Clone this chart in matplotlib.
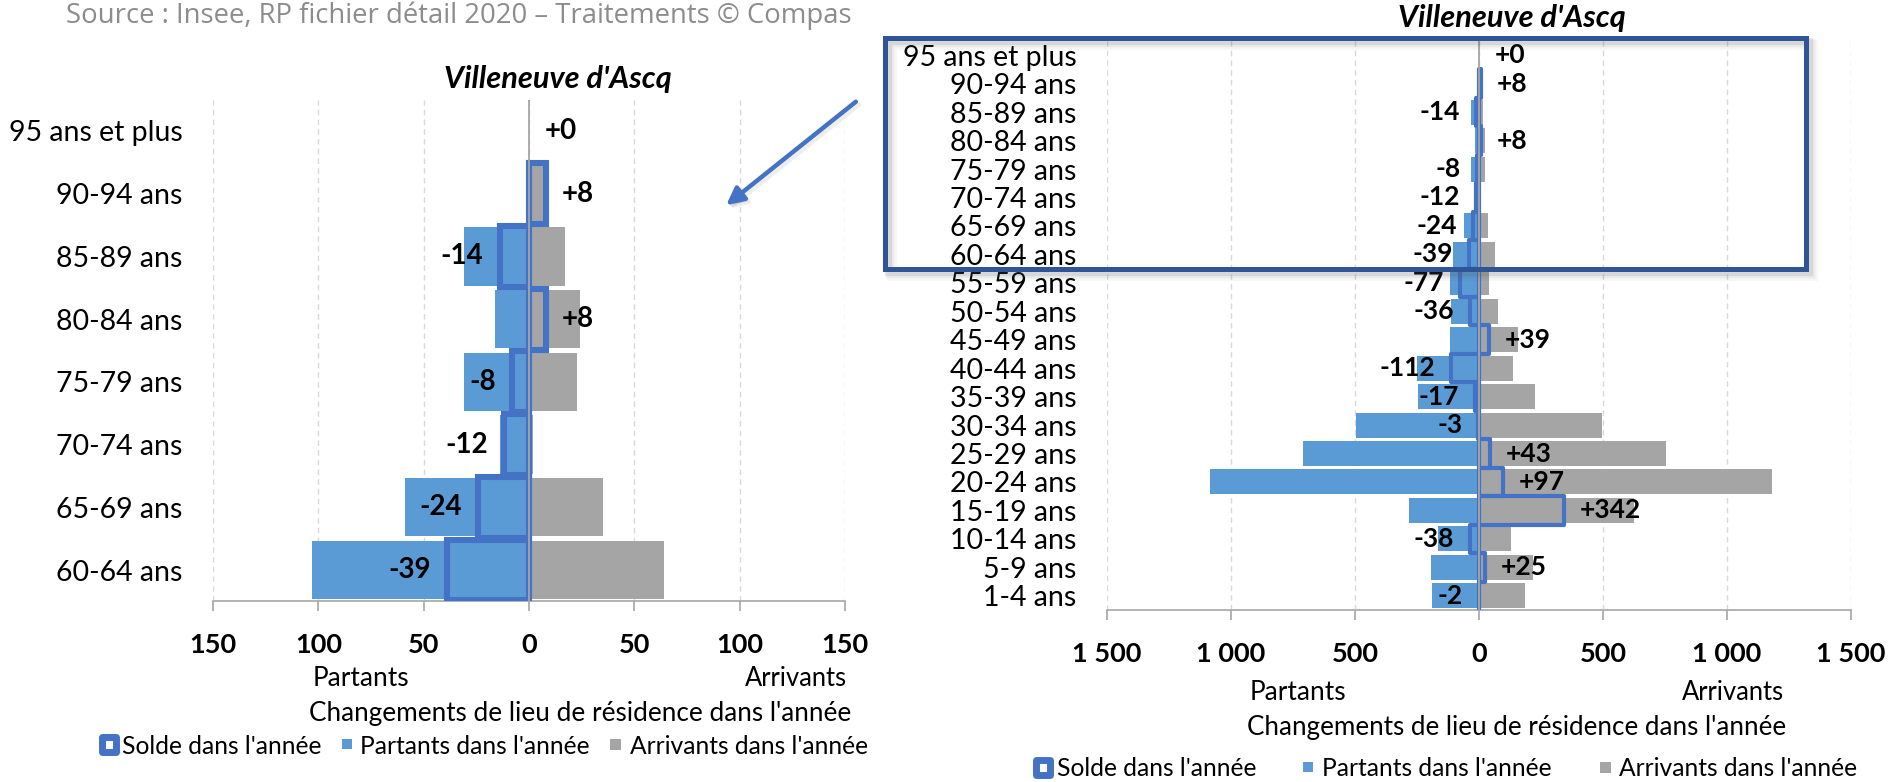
import numpy as np
import matplotlib
matplotlib.use("Agg")
import matplotlib.pyplot as plt
from matplotlib.patches import Rectangle, FancyArrowPatch

plt.rcParams['font.family'] = ['Lato', 'DejaVu Sans']

# ---------------- data ----------------
categories = ["95 ans et plus", "90-94 ans", "85-89 ans", "80-84 ans", "75-79 ans",
              "70-74 ans", "65-69 ans", "60-64 ans", "55-59 ans", "50-54 ans",
              "45-49 ans", "40-44 ans", "35-39 ans", "30-34 ans", "25-29 ans",
              "20-24 ans", "15-19 ans", "10-14 ans", "5-9 ans", "1-4 ans"]
partants = [0, 0, 31, 16, 31, 14, 59, 103, 117, 114, 117, 250, 244, 497, 710,
            1085, 283, 166, 193, 189]
arrivants = [0, 8, 17, 24, 23, 2, 35, 64, 40, 78, 156, 138, 227, 494, 753,
             1182, 625, 128, 218, 187]
solde = [0, 8, -14, 8, -8, -12, -24, -39, -77, -36, 39, -112, -17, -3, 43,
         97, 342, -38, 25, -2]
n_zoom = 8  # left chart shows the 60 ans et plus rows

source_txt = "Source : Insee, RP fichier détail 2020 – Traitements © Compas"
title_txt = "Villeneuve d'Ascq"
xlabel_txt = "Changements de lieu de résidence dans l'année"
legend_labels = ["Solde dans l'année", "Partants dans l'année", "Arrivants dans l'année"]

C_PART = "#5B9BD5"
C_ARR = "#A5A5A5"
C_SOLDE = "#4472C4"
C_FRAME = "#2F5597"
C_AXIS = "#A6A6A6"

W, H = 1895, 782
fig = plt.figure(figsize=(W / 100, H / 100), dpi=100)
renderer = fig.canvas.get_renderer()


def fx(x):
    return x / W


def fy(y):
    return 1 - y / H


def ax_rect(x0, y0, x1, y1):
    return [x0 / W, 1 - y1 / H, (x1 - x0) / W, (y1 - y0) / H]


def fit(t, target_px):
    bb = t.get_window_extent(renderer=renderer)
    t.set_fontsize(t.get_fontsize() * target_px / bb.width)
    return t


def draw(ax, n, lim, step, bar_h, solde_h, solde_lw, lab_fs, fmt, join):
    y = np.arange(n)
    p = np.array(partants[:n])
    a = np.array(arrivants[:n])
    s = np.array(solde[:n])
    ax.barh(y, -p, height=bar_h, color=C_PART, zorder=2)
    ax.barh(y, a, height=bar_h, color=C_ARR, zorder=2)
    nz = s != 0
    bars = ax.barh(y[nz], s[nz], height=solde_h, fill=False, edgecolor=C_SOLDE,
                   linewidth=solde_lw, zorder=3)
    for b in bars:
        b.set_joinstyle(join)
    ax.axvline(0, color=C_AXIS, lw=1.3, zorder=4)
    for yi, v in zip(y, s):
        off = 11.5 if v >= 0 else -11.5
        ax.annotate(f"{v:+d}", xy=(v, yi), xytext=(off, 0), textcoords="offset points",
                    ha="left" if v >= 0 else "right", va="center",
                    fontweight="bold", fontsize=lab_fs, color="black", zorder=6)
    ax.set_xlim(-lim, lim)
    ax.set_ylim(n - 0.5, -0.5)
    ticks = np.arange(-lim, lim + 1, step)
    ax.set_xticks(ticks)
    ax.set_xticklabels([fmt(abs(t)) for t in ticks])
    ax.set_yticks(y)
    ax.set_yticklabels(categories[:n])
    ax.set_axisbelow(True)
    ax.xaxis.grid(True, linestyle=(0, (4, 3)), color="#D9D9D9", lw=1.0)
    for sp in ["top", "left", "right"]:
        ax.spines[sp].set_visible(False)
    ax.spines["bottom"].set_color(C_AXIS)
    ax.spines["bottom"].set_linewidth(1.2)
    ax.tick_params(axis="x", direction="out", length=7, width=1.2, color=C_AXIS,
                   pad=16, labelsize=19.5)
    ax.tick_params(axis="y", length=0, pad=22, labelsize=20.5)
    for tl in ax.get_xticklabels():
        tl.set_fontweight("bold")
    ax.set_facecolor("none")


fmt_small = lambda v: f"{int(v)}"
fmt_big = lambda v: f"{int(v):,}".replace(",", " ")

axL = fig.add_axes(ax_rect(213, 99.6, 845, 601.4))
draw(axL, n_zoom, 150, 50, 0.93, 0.97, 4.4, 20, fmt_small, "miter")

axR = fig.add_axes(ax_rect(1107, 41, 1851, 610))
draw(axR, len(categories), 1500, 500, 0.88, 1.0, 3.0, 19, fmt_big, "round")

# ---------------- texts ----------------
t = fig.text(fx(66), fy(23), source_txt, ha="left", va="baseline", color="#8C8C8C",
             family=["Open Sans", "DejaVu Sans"], fontsize=18)
fit(t, 786)

for cx, cy in [(558, 79), (1512, 18)]:
    t = fig.text(fx(cx), fy(cy), title_txt, ha="center", va="center",
                 fontweight="bold", style="italic", fontsize=20)
    fit(t, 227)

for (px, ax_y, axx) in [(361, 677, 796), (1298, 690, 1733)]:
    t = fig.text(fx(px), fy(ax_y + 2), "Partants", ha="center", va="center", fontsize=18)
    fit(t, 96)
    t = fig.text(fx(axx), fy(ax_y + 2), "Arrivants", ha="center", va="center", fontsize=18)
    fit(t, 102)
t = fig.text(fx(580), fy(712 + 2), xlabel_txt, ha="center", va="center", fontsize=18)
fit(t, 540)
t = fig.text(fx(1517), fy(725 + 2), xlabel_txt, ha="center", va="center", fontsize=18)
fit(t, 538)

# ---------------- legends ----------------
probe = fig.text(0, 0, legend_labels[2], fontsize=17)
fit(probe, 238)
leg_fs = probe.get_fontsize()
probe.remove()


def legend(y, solde_cx, part_cx, arr_cx, text_x):
    r = Rectangle((fx(solde_cx - 7), fy(y + 7.5)), 14 / W, 15 / H, transform=fig.transFigure,
                  facecolor="white", edgecolor=C_SOLDE, lw=5.0, joinstyle="round")
    fig.add_artist(r)
    fig.add_artist(Rectangle((fx(part_cx - 5), fy(y + 5)), 10 / W, 10 / H,
                             transform=fig.transFigure, facecolor=C_PART, edgecolor="none"))
    fig.add_artist(Rectangle((fx(arr_cx - 5.5), fy(y + 5.5)), 11 / W, 11 / H,
                             transform=fig.transFigure, facecolor=C_ARR, edgecolor="none"))
    for lbl, tx in zip(legend_labels, text_x):
        fig.text(fx(tx), fy(y + 2), lbl, ha="left", va="center", fontsize=leg_fs)


legend(744, 109, 346.5, 615.5, [122, 360, 630])
legend(767, 1043, 1308, 1605, [1057, 1322, 1619])

# ---------------- zoom frame with shadow ----------------
x0, y0, x1, y1 = 885, 38, 1806, 269
for off, al in [(7, 0.05), (5, 0.08), (3, 0.12)]:
    fig.add_artist(Rectangle((fx(x0 + off), fy(y1 + off)), (x1 - x0) / W, (y1 - y0) / H,
                             transform=fig.transFigure, fill=False, edgecolor="#555555",
                             lw=3.6 + off * 0.5, alpha=al, zorder=9))
fig.add_artist(Rectangle((fx(x0), fy(y1)), (x1 - x0) / W, (y1 - y0) / H,
                         transform=fig.transFigure, fill=False, edgecolor=C_FRAME,
                         lw=3.6, zorder=10))

# ---------------- arrow ----------------
fig.add_artist(FancyArrowPatch((fx(861), fy(103)), (fx(727), fy(210)),
                               transform=fig.transFigure, arrowstyle="-|>",
                               mutation_scale=26, lw=3.2, color="#777777",
                               alpha=0.12, zorder=9))
fig.add_artist(FancyArrowPatch((fx(858), fy(100)), (fx(724), fy(207)),
                               transform=fig.transFigure, arrowstyle="-|>",
                               mutation_scale=26, lw=3.2, color=C_SOLDE, zorder=10))

fig.savefig("out.png", dpi=100, facecolor="white")
